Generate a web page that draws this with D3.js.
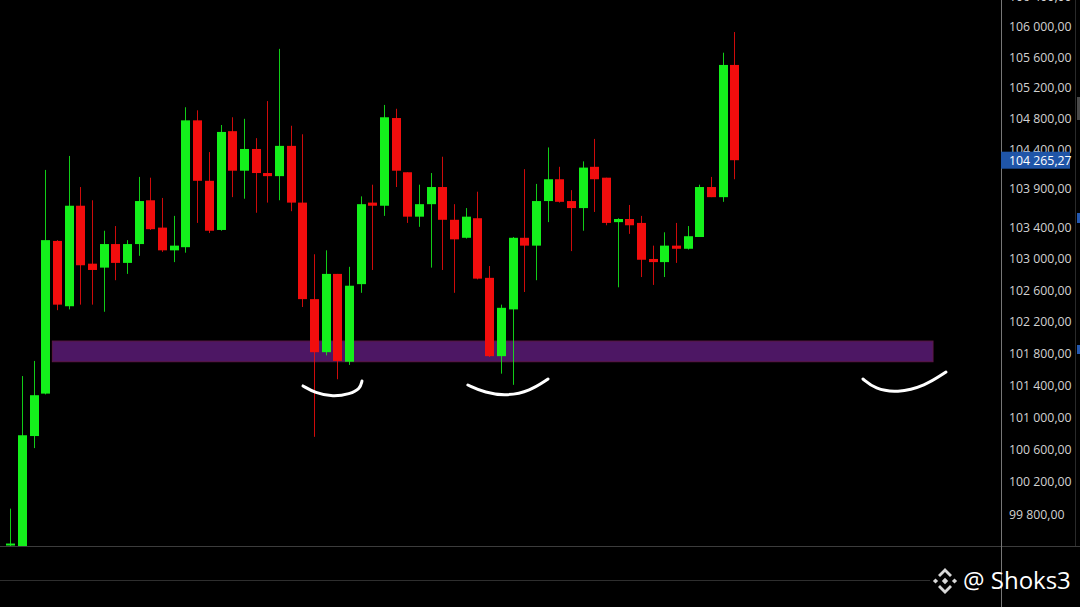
<!DOCTYPE html>
<html><head><meta charset="utf-8">
<script src="https://cdn.jsdelivr.net/npm/d3@7"></script>
<style>
html,body{margin:0;padding:0;background:#000;}
svg{display:block;}
</style></head>
<body>
<svg id="chart" width="1080" height="607"></svg>
<script>
// ---- data ----
const opens  = [99420,99400,100770,101300,103230,102400,103680,102940,102890,103190,102950,103190,103750,103400,103110,103150,104780,104000,103370,104640,104130,104410,104100,104060,104450,103720,102490,101820,102810,101700,102680,103720,103680,104810,104110,103540,103700,103920,103500,103270,103520,102760,101770,102360,103270,103170,103740,104020,103740,103650,104180,104040,103470,103510,103460,103000,102960,103170,103130,103280,103920,103790,105500];
const highs  = [99870,101520,101710,104140,103240,104320,103920,103750,103360,103420,103240,104050,104040,103780,103550,104950,104910,104370,104720,104820,104800,104550,105030,105710,104710,104600,103060,103110,102810,102900,103800,103950,104980,104930,104110,103950,104100,104310,103700,103650,103860,102910,102420,103280,104150,103960,104430,104180,103880,104250,104540,104040,103520,103690,103550,103170,103340,103460,103420,103950,104050,105660,105930];
const lows   = [99400,99400,100620,101290,102350,102360,102420,102420,102330,102730,102810,103040,103370,103090,102960,103080,103460,103330,103360,103790,103770,103590,103720,103750,103610,102390,100760,101780,101480,101660,102570,102860,103550,103920,103460,103410,102890,102860,102570,103260,102740,101760,101550,101410,102580,102730,103470,103720,103100,103360,103600,103430,102640,103320,102770,102670,102770,102950,103120,103280,103790,103730,104020];
const closes = [99440,100780,101280,103240,102420,103680,102920,102860,103190,102950,103190,103740,103380,103110,103170,104780,104000,103360,104630,104130,104410,104100,104060,104450,103720,102490,101820,102810,101710,102660,103700,103680,104820,104130,103540,103700,103920,103500,103250,103540,102750,101770,102380,103270,103170,103740,104020,103730,103650,104170,104020,103460,103510,103430,102990,102960,103170,103130,103290,103920,103790,105500,104265.27];
const tickValues = [106400,106000,105600,105200,104800,104400,103900,103400,103000,102600,102200,101800,101400,101000,100600,100200,99800];
const zoneLow = 101700, zoneHigh = 101960, zoneStart = 3.6, zoneEnd = 79;
const arcs = [
  [[25.06,101396],[26.09,101310],[27.63,101258],[29.08,101296],[29.94,101358],[30.11,101458]],
  [[39.18,101408],[40.64,101310],[42.53,101270],[44.49,101333],[46.04,101483]],
  [[73.0,101483],[74.03,101358],[75.92,101308],[78.31,101396],[80.11,101571]]
];
const watermark = "@ Shoks3";

// ---- layout ----
const W = 1080, H = 607, axisX = 1001, plotBottom = 546;
const svg = d3.select("#chart");
svg.append("rect").attr("width", W).attr("height", H).attr("fill", "#000");

const x = d3.scaleLinear().domain([0, 85]).range([10.3, 10.3 + 85 * 11.68]);
const y = d3.scaleLog().domain([99800, 106000]).range([514.3, 26.7]);
const fmt = d3.formatLocale({decimal: ",", thousands: " ", grouping: [3]}).format(",.2f");

const candles = opens.map((o, i) => ({i, o, h: highs[i], l: lows[i], c: closes[i]}));

svg.append("defs").append("clipPath").attr("id", "plot")
  .append("rect").attr("x", 0).attr("y", 0).attr("width", axisX).attr("height", plotBottom);

// frame lines
svg.append("line").attr("x1", 0).attr("x2", W).attr("y1", plotBottom + 0.5).attr("y2", plotBottom + 0.5)
  .attr("stroke", "#3c3c3c").attr("stroke-width", 1);
svg.append("line").attr("x1", 0).attr("x2", 930).attr("y1", 580.5).attr("y2", 580.5)
  .attr("stroke", "#2e2e2e").attr("stroke-width", 1);
svg.append("line").attr("x1", 1075.5).attr("x2", 1075.5).attr("y1", 0).attr("y2", plotBottom)
  .attr("stroke", "#2a2a2a").attr("stroke-width", 1);

const plot = svg.append("g").attr("clip-path", "url(#plot)");

// support zone
plot.append("rect")
  .attr("x", x(zoneStart)).attr("width", x(zoneEnd) - x(zoneStart))
  .attr("y", y(zoneHigh)).attr("height", y(zoneLow) - y(zoneHigh))
  .attr("fill", "#4d1764").attr("stroke", "#5c1848").attr("stroke-width", 1);

// candles
const green = "#14f01c", red = "#f20d0d";
const g = plot.selectAll("g.c").data(candles).join("g").attr("class", "c");
g.append("line")
  .attr("x1", d => Math.round(x(d.i)) + 0.5).attr("x2", d => Math.round(x(d.i)) + 0.5)
  .attr("y1", d => y(d.h)).attr("y2", d => y(d.l))
  .attr("stroke", d => d.c >= d.o ? green : red).attr("stroke-width", 1).attr("opacity", 0.85);
g.append("rect")
  .attr("x", d => Math.round(x(d.i)) - 4).attr("width", 9)
  .attr("y", d => y(Math.max(d.o, d.c)))
  .attr("height", d => Math.max(2, Math.abs(y(d.o) - y(d.c))))
  .attr("fill", d => d.c >= d.o ? green : red);

// hand drawn arcs
const line = d3.line().x(d => x(d[0])).y(d => y(d[1])).curve(d3.curveBasis);
svg.selectAll("path.arc").data(arcs).join("path").attr("class", "arc")
  .attr("d", line).attr("fill", "none").attr("stroke", "#fff")
  .attr("stroke-width", 3).attr("stroke-linecap", "round");

// right axis
svg.append("line").attr("x1", axisX + 0.5).attr("x2", axisX + 0.5).attr("y1", 0).attr("y2", H)
  .attr("stroke", "#777").attr("stroke-width", 1);
svg.selectAll("text.tick").data(tickValues).join("text").attr("class", "tick")
  .attr("x", 1009).attr("y", d => y(d)).attr("dy", "0.35em")
  .attr("font-family", "'Open Sans', 'Noto Sans', sans-serif").attr("font-size", 12.3)
  .attr("fill", "#d2d2d2").text(d => fmt(d));

// right-edge markers
svg.append("rect").attr("x", 1077).attr("y", 97).attr("width", 3).attr("height", 23).attr("fill", "#4a4a4a");
svg.append("rect").attr("x", 1077).attr("y", 213).attr("width", 3).attr("height", 10).attr("fill", "#2358b0");
svg.append("rect").attr("x", 1077).attr("y", 345).attr("width", 3).attr("height", 9).attr("fill", "#2358b0");

// last price label
const last = closes[closes.length - 1];
svg.append("rect").attr("x", axisX).attr("y", y(last) - 8.5).attr("width", 69).attr("height", 17)
  .attr("fill", "#1f55a8");
svg.append("text").attr("x", 1009).attr("y", y(last)).attr("dy", "0.36em")
  .attr("font-family", "'Open Sans', 'Noto Sans', sans-serif").attr("font-size", 12.3)
  .attr("font-weight", 500).attr("fill", "#fff").text(fmt(last));

// watermark: binance-like logo + handle
const logo = svg.append("g").attr("transform", "translate(945,581)").attr("fill", "#d8d8d8");
const dia = (cx, cy, r) => `M${cx},${cy - r}L${cx + r},${cy}L${cx},${cy + r}L${cx - r},${cy}Z`;
logo.append("path").attr("d", dia(0, 0, 3.2));
logo.append("path").attr("d", dia(-9.5, 0, 2.6));
logo.append("path").attr("d", dia(9.5, 0, 2.6));
logo.append("path").attr("d", "M0,-13L7,-6L5,-4L0,-9L-5,-4L-7,-6Z");
logo.append("path").attr("d", "M0,13L7,6L5,4L0,9L-5,4L-7,6Z");
svg.append("text").attr("x", 963).attr("y", 589)
  .attr("font-family", "'Open Sans', 'Noto Sans', sans-serif").attr("font-size", 24)
  .attr("fill", "#fff").text(watermark);
</script>
</body></html>
